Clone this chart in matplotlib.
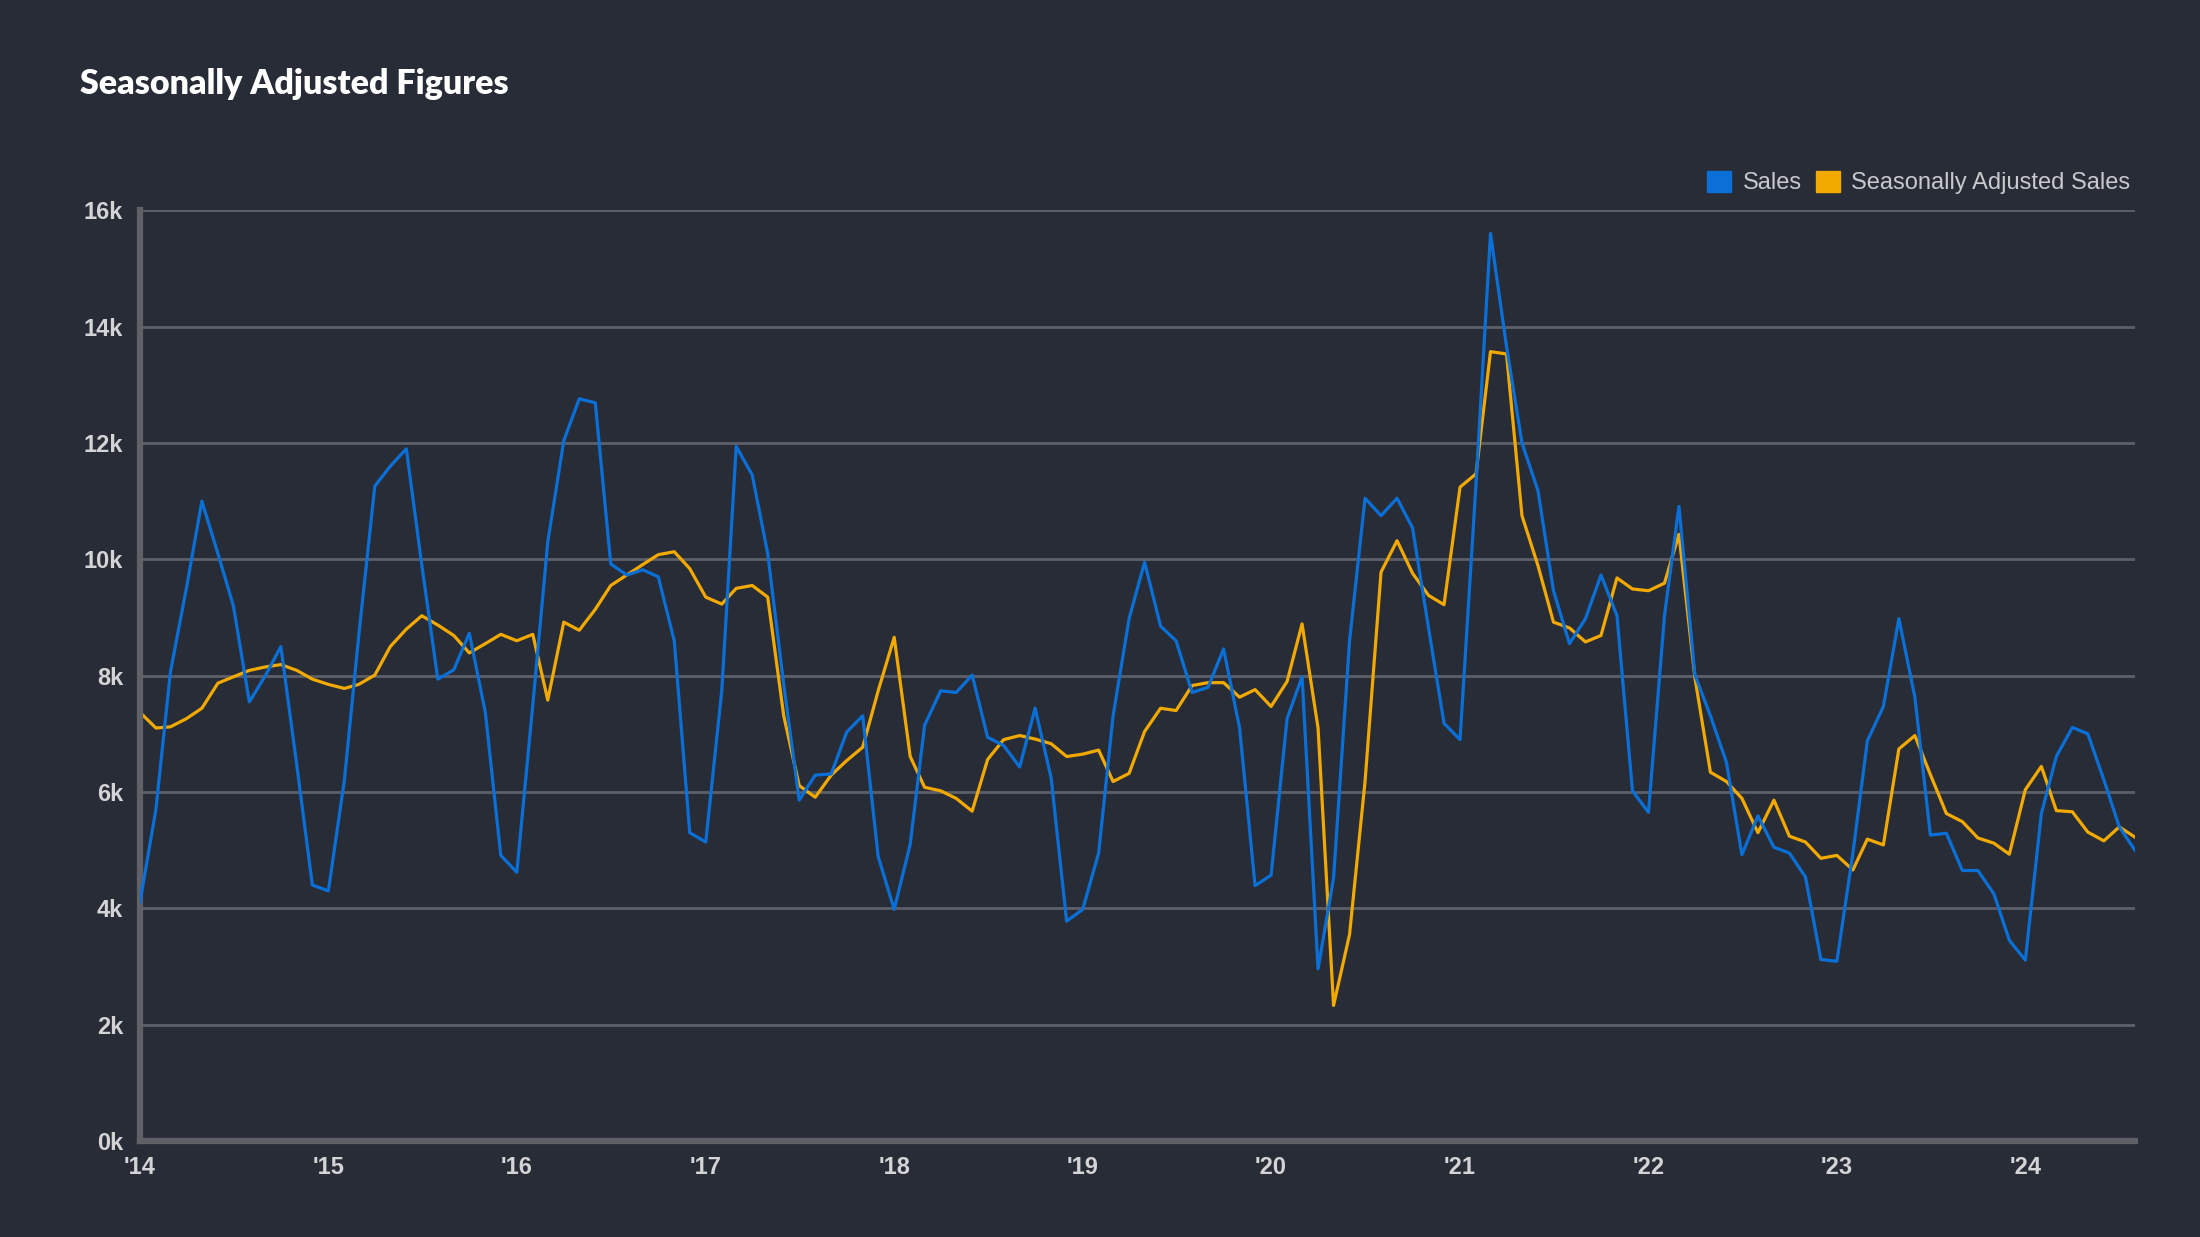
import matplotlib
matplotlib.use("Agg")
import matplotlib.pyplot as plt
import matplotlib.dates as mdates
from matplotlib.patches import Patch
import pandas as pd

# monthly figures, Jan 2014 - Aug 2024 (in thousands)
months = pd.date_range("2014-01-01", periods=128, freq="MS")

sales = [
    4.1, 5.7, 8.06, 9.5, 11.0, 10.1, 9.2, 7.55, 8.0, 8.5, 6.45, 4.4,
    4.3, 6.2, 8.7, 11.26, 11.6, 11.9, 9.9, 7.94, 8.1, 8.73, 7.37, 4.91,
    4.62, 7.5, 10.3, 12.04, 12.76, 12.69, 9.92, 9.73, 9.82, 9.7, 8.6, 5.3,
    5.14, 7.74, 11.94, 11.45, 10.1, 7.85, 5.86, 6.29, 6.31, 7.03, 7.31, 4.89,
    3.98, 5.1, 7.15, 7.74, 7.71, 8.01, 6.94, 6.8, 6.43, 7.44, 6.24, 3.78,
    3.98, 4.95, 7.31, 8.98, 9.95, 8.85, 8.6, 7.71, 7.8, 8.46, 7.1, 4.39,
    4.57, 7.26, 7.98, 2.96, 4.52, 8.6, 11.05, 10.75, 11.05, 10.54, 8.82, 7.18,
    6.9, 11.3, 15.6, 13.66, 12.0, 11.18, 9.46, 8.55, 8.98, 9.73, 9.03, 6.02,
    5.65, 9.03, 10.91, 8.01, 7.31, 6.51, 4.92, 5.59, 5.05, 4.95, 4.54, 3.12,
    3.09, 4.95, 6.88, 7.47, 8.98, 7.63, 5.26, 5.29, 4.65, 4.65, 4.25, 3.45,
    3.11, 5.63, 6.61, 7.11, 7.0, 6.21, 5.4, 4.99,
]

adjusted = [
    7.37, 7.1, 7.12, 7.26, 7.44, 7.87, 7.98, 8.09, 8.15, 8.19, 8.09, 7.94,
    7.85, 7.78, 7.85, 8.01, 8.5, 8.8, 9.03, 8.87, 8.69, 8.39, 8.55, 8.71,
    8.6, 8.71, 7.58, 8.92, 8.78, 9.14, 9.55, 9.73, 9.91, 10.08, 10.13, 9.84,
    9.35, 9.23, 9.5, 9.55, 9.35, 7.31, 6.11, 5.91, 6.29, 6.54, 6.77, 7.74,
    8.66, 6.61, 6.08, 6.02, 5.89, 5.67, 6.56, 6.9, 6.97, 6.91, 6.83, 6.61,
    6.65, 6.72, 6.18, 6.32, 7.04, 7.44, 7.4, 7.83, 7.88, 7.88, 7.63, 7.76,
    7.47, 7.9, 8.89, 7.1, 2.33, 3.55, 6.18, 9.78, 10.32, 9.76, 9.38, 9.22,
    11.24, 11.47, 13.57, 13.53, 10.75, 9.89, 8.92, 8.82, 8.58, 8.69, 9.68, 9.49,
    9.46, 9.59, 10.43, 7.96, 6.34, 6.18, 5.89, 5.3, 5.86, 5.24, 5.14, 4.86,
    4.91, 4.66, 5.19, 5.09, 6.74, 6.97, 6.3, 5.63, 5.49, 5.21, 5.12, 4.93,
    6.04, 6.44, 5.68, 5.66, 5.31, 5.16, 5.4, 5.22,
]

y_ticks = [0, 2, 4, 6, 8, 10, 12, 14, 16]

bg = "#282c37"
blue = "#0a70d8"
gold = "#f2a900"
grid_col = "#5d6069"
text_col = "#d4d4d6"

fig = plt.figure(figsize=(22, 12.37), dpi=100, facecolor=bg)
ax = fig.add_axes([0.0636, 0.0776, 0.907, 0.7524])
ax.set_facecolor(bg)

ax.plot(months, sales, color=blue, lw=2.3, zorder=3)
ax.plot(months, adjusted, color=gold, lw=2.3, zorder=2)

ax.set_xlim(months[0], months[-1])
ax.set_ylim(0, 16)
ax.set_yticks(y_ticks)
ax.set_yticklabels([f"{v}k" for v in y_ticks])
ax.yaxis.grid(True, color=grid_col, lw=2)
ax.set_axisbelow(True)

year_starts = pd.date_range("2014-01-01", "2024-01-01", freq="YS")
ax.set_xticks(year_starts)
ax.xaxis.set_major_formatter(mdates.DateFormatter("'%y"))

for side in ["top", "right"]:
    ax.spines[side].set_visible(False)
for side in ["left", "bottom"]:
    ax.spines[side].set_color("#606166")
    ax.spines[side].set_linewidth(4.5)

ax.tick_params(length=0, pad=11, labelcolor=text_col)
for lbl in ax.get_xticklabels() + ax.get_yticklabels():
    lbl.set_family("Liberation Sans")
    lbl.set_fontweight("bold")
    lbl.set_fontsize(17)
ax.tick_params(axis="y", pad=12)

fig.text(0.0365, 0.932, "Seasonally Adjusted Figures", color="white",
         fontsize=24.5, fontweight="heavy", family="Lato", va="center")

handles = [Patch(facecolor=blue, edgecolor=blue), Patch(facecolor=gold, edgecolor=gold)]
leg = ax.legend(handles, ["Sales", "Seasonally Adjusted Sales"], loc="lower right",
                bbox_to_anchor=(1.0, 1.012), ncol=2, frameon=False,
                prop={"family": "Liberation Sans", "size": 17},
                handlelength=1.0, handleheight=1.0, handletextpad=0.5,
                columnspacing=0.6, borderaxespad=0.2, borderpad=0.0)
for t in leg.get_texts():
    t.set_color("#c8c9cc")

fig.savefig("out.png", dpi=100, facecolor=bg)
